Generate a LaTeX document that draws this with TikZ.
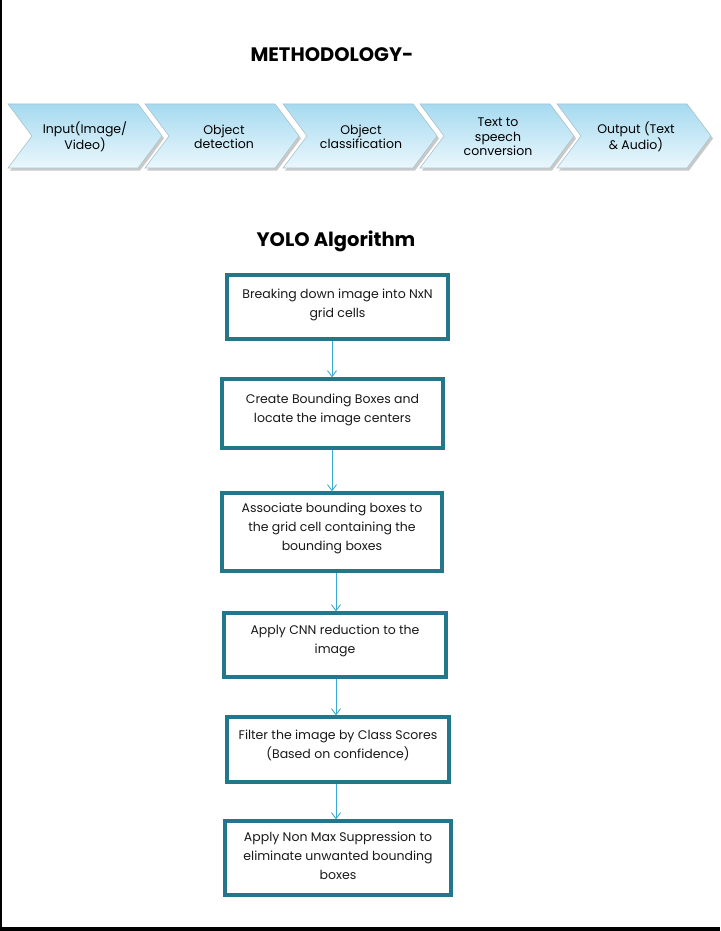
\documentclass[tikz,border=0pt]{standalone}
\usepackage{fontspec}
\setmainfont{Poppins}
\usetikzlibrary{shadows,arrows.meta}
\definecolor{teal}{HTML}{22788A}
\definecolor{arr}{HTML}{3AAAD2}
\definecolor{chevA}{HTML}{A6DAF0}
\definecolor{chevB}{HTML}{EAF7FC}
\definecolor{chevE}{HTML}{A9C4CE}
\tikzset{
  chev/.style={draw=chevE, line width=0.6pt, top color=chevA, bottom color=chevB,
    drop shadow={shadow xshift=2pt, shadow yshift=-2.5pt, opacity=0.35, fill=black!60}},
  chevtext/.style={font=\fontsize{12.5}{14.5}\selectfont, align=center, text=black, inner sep=0pt},
  stepbox/.style={draw=teal, line width=3.2pt, fill=white, inner sep=0pt},
  boxtext/.style={font=\fontsize{12.5}{19}\selectfont, align=center, text=black!90, inner sep=0pt, anchor=north},
  title/.style={font=\fontsize{19.5}{22}\selectfont\bfseries, text=black, inner sep=0pt},
  link/.style={draw=arr, line width=0.9pt, -{Straight Barb[length=6pt,width=9pt,line width=0.9pt]}}
}
\begin{document}
\begin{tikzpicture}[x=1pt,y=-1pt]
\useasboundingbox (0,0) rectangle (720,931);
\fill[white] (0,0) rectangle (720,931);
\fill[black] (0,0) rectangle (1.6,931);
\fill[black] (0,927) rectangle (720,931);

\node[title] (t1) at (332,55) {METHODOLOGY-};
\node[title] (t2) at (336,241) {YOLO Algorithm};

% chevrons
\foreach \L/\nm in {8/c1,145/c2,283/c3,420/c4,557/c5}{
  \path[chev] (\L,104) -- ++(130,0) -- ++(24,32) -- ++(-24,32) -- ++(-130,0) -- ++(24,-32) -- cycle;
}
\node[chevtext] (n1) at (85,137) {Input(Image/\\Video)};
\node[chevtext] (n2) at (224,137) {Object\\detection};
\node[chevtext] (n3) at (361,137) {Object\\classification};
\node[chevtext] (n4) at (498,137) {Text to\\speech\\conversion};
\node[chevtext] (n5) at (636,137) {Output (Text\\\& Audio)};

% boxes
\node[stepbox, minimum width=221pt, minimum height=64pt] (b1) at (337.5,307) {};
\node[stepbox, minimum width=221pt, minimum height=69pt] (b2) at (332.5,413.5) {};
\node[stepbox, minimum width=220pt, minimum height=78pt] (b3) at (332,532) {};
\node[stepbox, minimum width=222pt, minimum height=64pt] (b4) at (335,645) {};
\node[stepbox, minimum width=222pt, minimum height=65pt] (b5) at (338,749.5) {};
\node[stepbox, minimum width=226pt, minimum height=74pt] (b6) at (338,858) {};

\node[boxtext] (x1) at ([yshift=-15pt]b1.north) {Breaking down image into NxN\\grid cells};
\node[boxtext] (x2) at ([yshift=-16pt]b2.north) {Create Bounding Boxes and\\locate the image centers};
\node[boxtext] (x3) at ([yshift=-11pt]b3.north) {Associate bounding boxes to\\the grid cell containing the\\bounding boxes};
\node[boxtext] (x4) at ([yshift=-13pt]b4.north) {Apply CNN reduction to the\\image};
\node[boxtext] (x5) at ([yshift=-14pt]b5.north) {Filter the image by Class Scores\\(Based on confidence)};
\node[boxtext] (x6) at ([yshift=-12pt]b6.north) {Apply Non Max Suppression to\\eliminate unwanted bounding\\boxes};

\draw[link] (b1.south -| 332,0) -- (b2.north -| 332,0);
\draw[link] (b2.south -| 332,0) -- (b3.north -| 332,0);
\draw[link] (b3.south -| 336,0) -- (b4.north -| 336,0);
\draw[link] (b4.south -| 336,0) -- (b5.north -| 336,0);
\draw[link] (b5.south -| 336,0) -- (b6.north -| 336,0);
\end{tikzpicture}
\end{document}
